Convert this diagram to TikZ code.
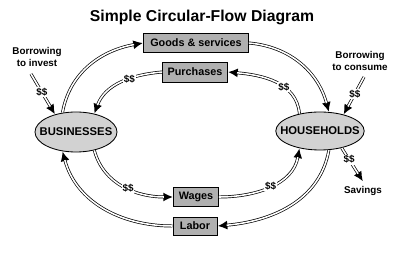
\documentclass[tikz,border=0pt]{standalone}
\usepackage{fontspec}
\setmainfont{Liberation Sans}
\usepackage{tikz}
\usetikzlibrary{arrows.meta,positioning,shapes.geometric}
\tikzset{
	flow/.style={draw=white, line width=1.1pt, shorten >=6.5pt,
		preaction={draw=black, line width=2.1pt, shorten >=0pt,
			-{Latex[length=7pt,width=6.5pt]}}},
	money/.style={font=\fontsize{7}{8}\selectfont\bfseries, fill=white, inner sep=0.6pt},
	sidelabel/.style={font=\fontsize{7}{8.4}\selectfont\bfseries, align=center}
}

\begin{document}
\begin{tikzpicture}[x=0.025cm, y=0.025cm,
			flowbox/.style={draw, line width=0.7pt, fill=gray!62, inner sep=2pt,
				font=\fontsize{7.7}{9}\selectfont\bfseries},
			sector/.style={ellipse, draw, line width=0.6pt, fill=gray!35,
				inner xsep=-6pt, inner ysep=0pt,
				font=\fontsize{8}{9}\selectfont\bfseries},
			]
			\useasboundingbox (0,0) rectangle (400,-254);
			
			%% -- Title
			\node[font=\fontsize{11.2}{13}\selectfont\bfseries] (title) at (202,-17)
			{Simple Circular-Flow Diagram};
			
			%% -- Sectors
			\node[sector, minimum width=2.05cm, minimum height=1.0cm]
			(bus) at (76,-132) {BUSINESSES};
			\node[sector, minimum width=2.1cm, minimum height=0.95cm]
			(hh) at (320,-131) {HOUSEHOLDS};
			
			%% -- Markets
			\node[flowbox, minimum width=2.62cm, minimum height=0.48cm] (goods) at (196,-43)
			{Goods \& services};
			\node[flowbox, minimum width=1.62cm, minimum height=0.5cm] (purch) at (195,-72)
			{Purchases};
			\node[flowbox, minimum width=1.12cm, minimum height=0.47cm] (wages) at (196,-197)
			{Wages};
			\node[flowbox, minimum width=1.1cm, minimum height=0.45cm] (labor) at (195,-226)
			{Labor};
			
			%% -- Side labels
			\node[sidelabel] (inv) at (37,-57) {Borrowing\\to invest};
			\node[sidelabel] (cons) at (360,-61) {Borrowing\\to consume};
			\node[sidelabel] (sav) at (363,-191) {Savings};
			
			%% -- Outer loop (real flows)
			\draw[flow] (bus.125) to[out=80, in=190] (goods.west);
			\draw[flow] (goods.east) to[out=-5, in=105] (hh.65);
			\draw[flow] (hh.-65) to[out=-100, in=5] (labor.east);
			\draw[flow] (labor.west) to[out=180, in=-75] (bus.-125);
			
			%% -- Inner loop (money flows)
			\draw[flow] (hh.140) to[out=95, in=-5]
			node[money, pos=0.38] {\$\$} (purch.east);
			\draw[flow] (purch.west) to[out=185, in=70]
			node[money, pos=0.38] {\$\$} (bus.45);
			\draw[flow] (bus.-45) to[out=-75, in=180]
			node[money, pos=0.55] {\$\$} (wages.west);
			\draw[flow] (wages.east) to[out=0, in=-100]
			node[money, pos=0.5] {\$\$} (hh.-140);
			
			%% -- Borrowing and saving
			\coordinate (invsrc) at (31,-74);
			\coordinate (conssrc) at (364,-77);
			\coordinate (savsrc) at (hh.-38);
			\draw[flow] (invsrc) -- node[money, pos=0.45] {\$\$} (bus.140);
			\draw[flow] (conssrc) -- node[money, pos=0.45] {\$\$} (hh.35);
			\draw[flow] (savsrc) -- node[money, pos=0.35] {\$\$} (sav.north);
			
		\end{tikzpicture}
\end{document}
